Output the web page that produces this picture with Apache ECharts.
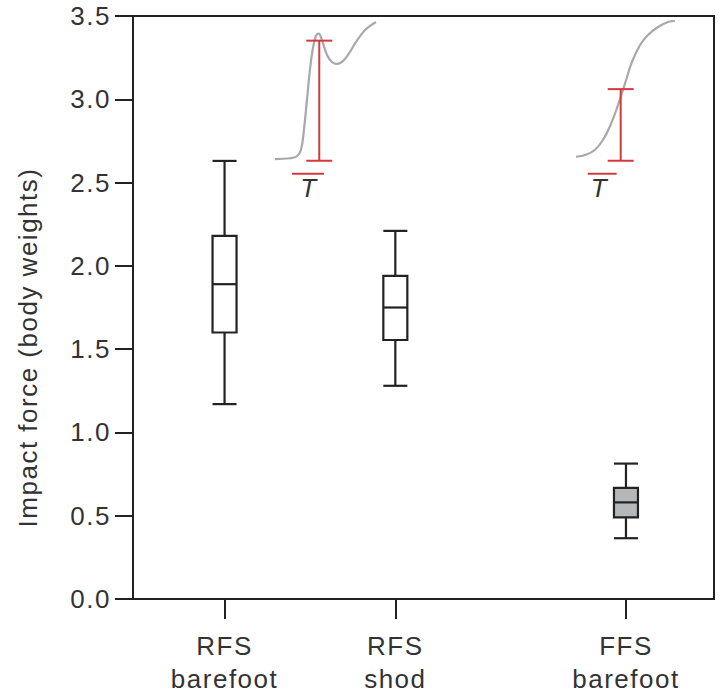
<!DOCTYPE html>
<html>
<head>
<meta charset="utf-8">
<script src="https://cdn.jsdelivr.net/npm/echarts@6/dist/echarts.min.js"></script>
<style>
  html, body { margin: 0; padding: 0; background: #fff; }
  #chart { width: 721px; height: 695px; }
  #chart text { letter-spacing: 1.5px; }
</style>
</head>
<body>
<div id="chart"></div>
<script>
// ---- data ----
const categories = ['RFS\nbarefoot', 'RFS\nshod', 'FFS\nbarefoot'];
const xPositions = [0.52, 1.49, 2.80];
// [lower whisker, Q1, median, Q3, upper whisker]
const boxStats = [
  [1.17, 1.60, 1.89, 2.18, 2.63],
  [1.28, 1.555, 1.75, 1.94, 2.21],
  [0.365, 0.49, 0.58, 0.667, 0.813]
];
const yTicks = [0, 0.5, 1.0, 1.5, 2.0, 2.5, 3.0, 3.5];

// inset force traces ([x, y] in axis units)
const traceRFS = [
  [0.806, 2.641], [0.892, 2.646], [0.931, 2.658], [0.954, 2.697], [0.971, 2.817],
  [0.988, 2.996], [1.005, 3.176], [1.022, 3.308], [1.039, 3.380], [1.054, 3.395],
  [1.073, 3.356], [1.102, 3.266], [1.130, 3.224], [1.159, 3.212], [1.187, 3.224],
  [1.221, 3.266], [1.267, 3.344], [1.318, 3.416], [1.380, 3.464]
];
const traceFFS = [
  [2.516, 2.655], [2.573, 2.667], [2.624, 2.697], [2.670, 2.757], [2.715, 2.852],
  [2.755, 2.966], [2.794, 3.092], [2.834, 3.224], [2.880, 3.326], [2.925, 3.386],
  [2.982, 3.434], [3.039, 3.464], [3.078, 3.470]
];
// impact-force range bars: [x, bottom, top]
const impactBars = [
  [1.058, 2.631, 3.352],
  [2.770, 2.631, 3.061]
];
// T-bar marks
const tBarRFS = [[0.903, 2.553], [1.085, 2.553]];
const tBarFFS = [[2.583, 2.553], [2.747, 2.553]];
const tLabels = [[1.000, 2.465], [2.650, 2.465]];

// ---- styles ----
const ink = '#222222';
const textColor = '#333333';
const red = '#d23a3e';
const gray = '#a8a8a8';
const boxFills = ['#ffffff', '#ffffff', '#b5b8ba'];
const fontFamily = "'Liberation Sans', Arial, sans-serif";

const chart = echarts.init(document.getElementById('chart'), null, { renderer: 'svg' });

const boxData = boxStats.map((s, i) => [xPositions[i]].concat(s));

const option = {
  animation: false,
  backgroundColor: '#ffffff',
  grid: {
    left: 133, right: 7, top: 16, bottom: 95,
    show: true, borderColor: ink, borderWidth: 2, backgroundColor: 'transparent'
  },
  xAxis: {
    type: 'value', min: 0, max: 3.3,
    splitLine: { show: false },
    axisLine: { show: true, onZero: false, lineStyle: { color: ink, width: 2 } },
    axisTick: { show: true, customValues: xPositions, length: 20, lineStyle: { color: ink, width: 2 } },
    axisLabel: {
      show: true, customValues: xPositions, margin: 30,
      color: textColor, fontSize: 26, lineHeight: 33, fontFamily: fontFamily,
      formatter: function (v) {
        let best = 0;
        for (let i = 0; i < xPositions.length; i++) {
          if (Math.abs(xPositions[i] - v) < Math.abs(xPositions[best] - v)) best = i;
        }
        return categories[best];
      }
    }
  },
  yAxis: {
    type: 'value', min: 0, max: 3.5, interval: 0.5,
    name: 'Impact force (body weights)',
    nameLocation: 'middle', nameGap: 92,
    nameTextStyle: { color: textColor, fontSize: 26, fontFamily: fontFamily, padding: [0, 80, 0, 0] },
    splitLine: { show: false },
    axisLine: { show: true, onZero: false, lineStyle: { color: ink, width: 2 } },
    axisTick: { show: true, length: 18, lineStyle: { color: ink, width: 2 } },
    axisLabel: {
      margin: 22, color: textColor, fontSize: 26, fontFamily: fontFamily,
      formatter: function (v) { return v.toFixed(1); }
    }
  },
  series: [
    {
      type: 'custom',
      name: 'boxes',
      data: boxData,
      z: 5,
      renderItem: function (params, api) {
        const x = api.value(0);
        const lo = api.coord([x, api.value(1)]);
        const q1 = api.coord([x, api.value(2)]);
        const md = api.coord([x, api.value(3)]);
        const q3 = api.coord([x, api.value(4)]);
        const hi = api.coord([x, api.value(5)]);
        const hw = 12;
        const cx = lo[0];
        const ls = { stroke: ink, lineWidth: 2.2, fill: null };
        return {
          type: 'group',
          children: [
            { type: 'line', shape: { x1: cx, y1: hi[1], x2: cx, y2: q3[1] }, style: ls },
            { type: 'line', shape: { x1: cx, y1: q1[1], x2: cx, y2: lo[1] }, style: ls },
            { type: 'line', shape: { x1: cx - hw, y1: hi[1], x2: cx + hw, y2: hi[1] }, style: ls },
            { type: 'line', shape: { x1: cx - hw, y1: lo[1], x2: cx + hw, y2: lo[1] }, style: ls },
            { type: 'rect', shape: { x: cx - hw, y: q3[1], width: hw * 2, height: q1[1] - q3[1] },
              style: { stroke: ink, lineWidth: 2.2, fill: boxFills[params.dataIndex] } },
            { type: 'line', shape: { x1: cx - hw, y1: md[1], x2: cx + hw, y2: md[1] }, style: ls }
          ]
        };
      }
    },
    {
      type: 'line', name: 'trace RFS', data: traceRFS, smooth: 0.4, showSymbol: false,
      lineStyle: { color: gray, width: 2.2 }, z: 3, silent: true
    },
    {
      type: 'line', name: 'trace FFS', data: traceFFS, smooth: 0.4, showSymbol: false,
      lineStyle: { color: gray, width: 2.2 }, z: 3, silent: true
    },
    {
      type: 'custom', name: 'impact bars', data: impactBars, z: 4,
      renderItem: function (params, api) {
        const x = api.value(0);
        const b = api.coord([x, api.value(1)]);
        const t = api.coord([x, api.value(2)]);
        const hw = 13;
        const ls = { stroke: red, lineWidth: 2, fill: null };
        return {
          type: 'group',
          children: [
            { type: 'line', shape: { x1: b[0], y1: b[1], x2: t[0], y2: t[1] }, style: ls },
            { type: 'line', shape: { x1: b[0] - hw, y1: b[1], x2: b[0] + hw, y2: b[1] }, style: ls },
            { type: 'line', shape: { x1: t[0] - hw, y1: t[1], x2: t[0] + hw, y2: t[1] }, style: ls }
          ]
        };
      }
    },
    {
      type: 'line', name: 'T bar RFS', data: tBarRFS, showSymbol: false,
      lineStyle: { color: red, width: 2 }, z: 4, silent: true
    },
    {
      type: 'line', name: 'T bar FFS', data: tBarFFS, showSymbol: false,
      lineStyle: { color: red, width: 2 }, z: 4, silent: true
    },
    {
      type: 'custom', name: 'T labels', data: tLabels, z: 4,
      renderItem: function (params, api) {
        const p = api.coord([api.value(0), api.value(1)]);
        return {
          type: 'text',
          x: p[0], y: p[1],
          style: {
            text: 'T', fill: textColor, fontSize: 26, fontStyle: 'italic',
            fontFamily: fontFamily, align: 'center', verticalAlign: 'middle'
          }
        };
      }
    }
  ]
};

chart.setOption(option);
</script>
</body>
</html>
